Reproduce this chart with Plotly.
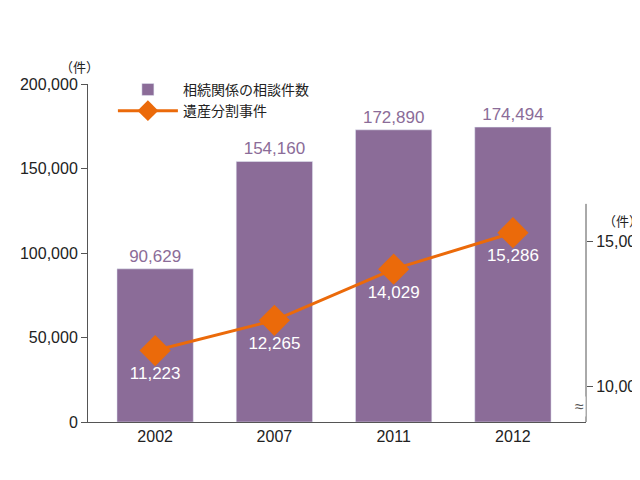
import plotly.graph_objects as go

years = ["2002", "2007", "2011", "2012"]
consult = [90629, 154160, 172890, 174494]
cases = [11223, 12265, 14029, 15286]

pos = list(range(len(years)))
purple = "#8B6C98"
orange = "#EB6A0A"
font = "Liberation Sans, Noto Sans CJK JP, sans-serif"

fig = go.Figure()
fig.add_trace(go.Bar(x=pos, y=consult, name="相続関係の相談件数", marker_color=purple,
                     width=0.64, text=[f"{v:,}" for v in consult], textposition="outside",
                     textfont=dict(color=purple, size=17), cliponaxis=False))
fig.add_trace(go.Scatter(x=pos, y=cases, yaxis="y2", name="遺産分割事件", mode="lines+markers+text",
                         line=dict(color=orange, width=3),
                         marker=dict(symbol="diamond", size=24, color=orange),
                         text=[f"{v:,}" for v in cases], textposition="bottom center",
                         textfont=dict(color="white", size=17)))

fig.update_layout(
    width=640, height=480, margin=dict(l=80, r=62, t=76, b=66, autoexpand=False),
    plot_bgcolor="white", paper_bgcolor="white",
    font=dict(family=font, size=16, color="#222"),
    xaxis=dict(range=[-0.563, 3.613], tickvals=pos, ticktext=years, showline=True,
               linecolor="#555", ticks="", showgrid=False, zeroline=False, automargin=False),
    yaxis=dict(range=[0, 200000], tickvals=[0, 50000, 100000, 150000, 200000],
               tickformat=",", showline=True, linecolor="#555", ticks="outside",
               ticklen=6, tickcolor="#555", showgrid=False, zeroline=False, automargin=False),
    yaxis2=dict(overlaying="y", side="right", range=[8759, 20414], tickvals=[10000, 15000],
                tickformat=",", showline=False, ticks="outside", ticklen=6, tickcolor="#555",
                showgrid=False, zeroline=False, automargin=False),
    legend=dict(x=0.05, y=1.03, xanchor="left", yanchor="top", bgcolor="rgba(0,0,0,0)",
                font=dict(size=14, family="Noto Sans CJK JP"), tracegroupgap=6, itemwidth=60),
    shapes=[dict(type="line", xref="paper", yref="y2", x0=1, x1=1, y0=8759, y1=16280,
                 line=dict(color="#555", width=1))],
    annotations=[
        dict(text="（件）", xref="paper", yref="paper", x=-0.06, y=1.085, showarrow=False,
             font=dict(size=13, family="Noto Sans CJK JP")),
        dict(text="（件）", xref="paper", yref="y2", x=1.03, y=15700, xanchor="left",
             showarrow=False, font=dict(size=13, family="Noto Sans CJK JP")),
        dict(text="≈", xref="paper", yref="y2", x=1, y=9300, showarrow=False,
             font=dict(size=16, color="#555"), bgcolor="white"),
    ],
)
fig.write_html("out.html")
